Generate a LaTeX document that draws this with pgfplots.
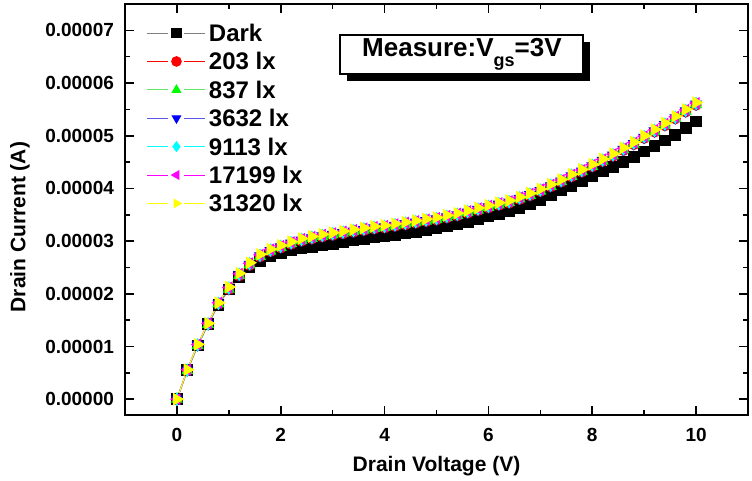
\documentclass[border=0pt]{standalone}
\usepackage{fontspec}
\setmainfont{Liberation Sans}
\usepackage{pgfplots}
\pgfplotsset{compat=1.18}
\usepackage{pgfplotstable}
\usetikzlibrary{shadows}
\definecolor{cR}{RGB}{255,0,0}
\definecolor{cG}{RGB}{0,255,0}
\definecolor{cB}{RGB}{0,0,255}
\definecolor{cC}{RGB}{0,255,255}
\definecolor{cM}{RGB}{255,0,255}
\definecolor{cY}{RGB}{255,255,0}
\definecolor{cDline}{RGB}{128,128,128}
\definecolor{cGline}{RGB}{100,230,100}
\definecolor{cBline}{RGB}{90,90,230}

\pgfplotstableread{
x D R G B C M Y
0.0 0.00 0.00 0.00 0.00 0.00 0.00 0.00
0.2 0.55 0.54 0.54 0.55 0.55 0.56 0.56
0.4 1.02 1.02 1.02 1.03 1.03 1.04 1.04
0.6 1.42 1.42 1.42 1.43 1.43 1.44 1.44
0.8 1.79 1.81 1.81 1.82 1.82 1.83 1.83
1.0 2.08 2.08 2.09 2.10 2.11 2.12 2.13
1.2 2.32 2.34 2.35 2.36 2.37 2.38 2.39
1.4 2.50 2.54 2.55 2.56 2.57 2.58 2.59
1.6 2.63 2.70 2.71 2.72 2.73 2.74 2.75
1.8 2.71 2.80 2.81 2.82 2.83 2.84 2.85
2.0 2.77 2.87 2.88 2.89 2.90 2.91 2.92
2.2 2.82 2.94 2.95 2.96 2.97 2.98 2.99
2.4 2.86 3.00 3.01 3.02 3.03 3.04 3.05
2.6 2.89 3.04 3.05 3.06 3.07 3.08 3.09
2.8 2.92 3.08 3.09 3.10 3.11 3.12 3.13
3.0 2.95 3.11 3.12 3.13 3.14 3.15 3.16
3.2 2.98 3.14 3.15 3.16 3.17 3.18 3.19
3.4 3.01 3.17 3.18 3.19 3.20 3.21 3.22
3.6 3.04 3.20 3.21 3.22 3.23 3.24 3.25
3.8 3.07 3.23 3.24 3.25 3.26 3.27 3.28
4.0 3.10 3.25 3.26 3.27 3.28 3.29 3.30
4.2 3.12 3.28 3.29 3.30 3.31 3.32 3.33
4.4 3.15 3.31 3.32 3.33 3.34 3.35 3.36
4.6 3.18 3.34 3.35 3.36 3.37 3.38 3.39
4.8 3.21 3.37 3.38 3.39 3.40 3.41 3.42
5.0 3.24 3.40 3.41 3.42 3.43 3.44 3.45
5.2 3.28 3.44 3.45 3.46 3.47 3.48 3.49
5.4 3.32 3.48 3.49 3.50 3.51 3.52 3.53
5.6 3.37 3.53 3.54 3.55 3.56 3.57 3.58
5.8 3.42 3.58 3.59 3.60 3.61 3.62 3.63
6.0 3.47 3.63 3.64 3.65 3.66 3.67 3.68
6.2 3.52 3.68 3.69 3.70 3.71 3.72 3.73
6.4 3.57 3.72 3.73 3.74 3.75 3.76 3.77
6.6 3.63 3.79 3.80 3.81 3.82 3.83 3.84
6.8 3.70 3.86 3.87 3.88 3.89 3.90 3.91
7.0 3.78 3.94 3.95 3.96 3.97 3.98 3.99
7.2 3.87 4.03 4.04 4.05 4.06 4.07 4.08
7.4 3.96 4.12 4.13 4.14 4.15 4.16 4.17
7.6 4.05 4.22 4.23 4.24 4.25 4.26 4.27
7.8 4.14 4.31 4.32 4.33 4.34 4.35 4.36
8.0 4.23 4.41 4.42 4.43 4.44 4.45 4.46
8.2 4.32 4.51 4.52 4.53 4.54 4.55 4.56
8.4 4.41 4.61 4.62 4.63 4.64 4.65 4.66
8.6 4.50 4.72 4.73 4.74 4.75 4.76 4.77
8.8 4.60 4.83 4.84 4.85 4.86 4.87 4.88
9.0 4.70 4.95 4.96 4.97 4.98 4.99 5.00
9.2 4.80 5.07 5.08 5.09 5.10 5.11 5.12
9.4 4.91 5.19 5.20 5.21 5.22 5.23 5.24
9.6 5.02 5.32 5.33 5.34 5.35 5.36 5.37
9.8 5.14 5.45 5.46 5.47 5.48 5.49 5.50
10.0 5.27 5.58 5.59 5.60 5.61 5.62 5.63
}\datatable

\begin{document}
\begin{tikzpicture}
\begin{axis}[
  scale only axis, width=311.5pt, height=205.5pt,
  at={(0,0)}, anchor=south west,
  xmin=-1, xmax=11, ymin=-0.3, ymax=7.5,
  xtick={0,2,...,10}, minor x tick num=1,
  ytick={0,1,...,7},
  yticklabels={0.00000,0.00001,0.00002,0.00003,0.00004,0.00005,0.00006,0.00007},
  minor y tick num=1,
  tick align=inside,
  major tick length=4.5pt, minor tick length=2.5pt,
  tick style={line width=0.8pt, black},
  axis line style={line width=1pt},
  tick label style={font=\bfseries\fontsize{9.5}{11}\selectfont},
  xticklabel style={yshift=-3pt},
  yticklabel style={xshift=-2pt},
  /pgf/number format/assume math mode=true,
  xlabel={Drain Voltage (V)}, ylabel={Drain Current (A)},
  label style={font=\bfseries\fontsize{10.5}{12}\selectfont},
  xlabel style={at={(axis description cs:0.5,-0.124)}, anchor=center},
  ylabel style={at={(axis description cs:-0.1685,0.4574)}, anchor=center},
  legend cell align=left,
  legend image code/.code={%
    \draw[#1] (0pt,0pt) -- (10.5pt,0pt);
    \draw[#1] (18.5pt,0pt) -- (29pt,0pt);
    \draw[#1, only marks, mark size=2.4pt] plot coordinates {(14.5pt,0pt)};},
  legend style={draw=none, fill=none, at={(0.025,0.968)}, anchor=north west,
    font=\bfseries\fontsize{12}{14}\selectfont, row sep=2.7pt,
    nodes={inner sep=1.5pt, text height=8.5pt, text depth=0pt}},
  every axis plot/.append style={line width=0.5pt},
]
\addplot[cDline, mark=square*, mark size=2.7pt, mark options={black, fill=black}] table[x=x,y=D] {\datatable};
\addlegendentry{Dark}
\addplot[cR, mark=*, mark size=2.5pt, mark options={cR, fill=cR}] table[x=x,y=R] {\datatable};
\addlegendentry{203 lx}
\addplot[cGline, mark=triangle*, mark size=3pt, mark options={cG, fill=cG}] table[x=x,y=G] {\datatable};
\addlegendentry{837 lx}
\addplot[cBline, mark=triangle*, mark size=3pt, mark options={cB, fill=cB, rotate=180}] table[x=x,y=B] {\datatable};
\addlegendentry{3632 lx}
\addplot[cC, mark=diamond*, mark size=3pt, mark options={cC, fill=cC}] table[x=x,y=C] {\datatable};
\addlegendentry{9113 lx}
\addplot[cM, mark=triangle*, mark size=3pt, mark options={cM, fill=cM, rotate=90}] table[x=x,y=M] {\datatable};
\addlegendentry{17199 lx}
\addplot[cY, mark=triangle*, mark size=3.2pt, mark options={cY, fill=cY, rotate=-90}] table[x=x,y=Y] {\datatable};
\addlegendentry{31320 lx}
\node[draw=black, line width=1pt, fill=white,
  drop shadow={shadow xshift=3.5pt, shadow yshift=-3.5pt, fill=black, opacity=1},
  minimum width=121.5pt, minimum height=19.5pt, inner sep=0pt,
  font=\bfseries\fontsize{13}{15}\selectfont]
  at (axis cs:5.49,6.55) {Measure:V\raisebox{-0.75ex}{\fontsize{9}{10}\selectfont gs}=3V};
\end{axis}
\pgfresetboundingbox
\path[use as bounding box] (-62.5pt,-33pt) rectangle (313.5pt,207.5pt);
\end{tikzpicture}
\end{document}
